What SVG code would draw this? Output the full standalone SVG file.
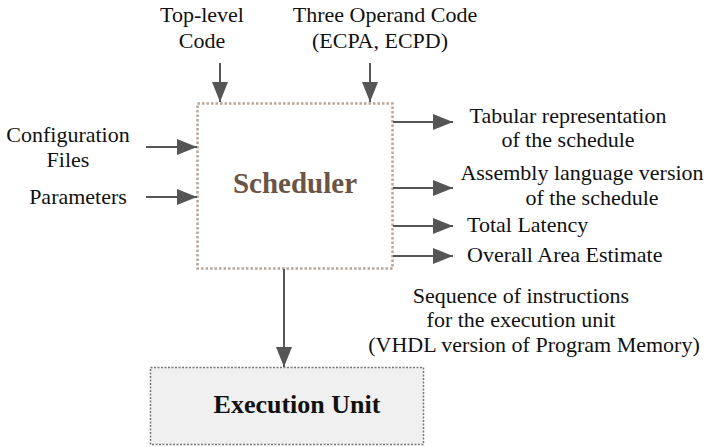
<svg xmlns="http://www.w3.org/2000/svg" width="715" height="447" viewBox="0 0 715 447">
<defs>
<marker id="ah" markerWidth="20" markerHeight="16" refX="20" refY="8" orient="auto" markerUnits="userSpaceOnUse">
<path d="M0,0 L20,8 L0,16 Z" fill="#555"/>
</marker>
<style>
text{font-family:'Liberation Serif','Times New Roman',Times,'DejaVu Serif',serif;font-size:22px;fill:#111}
.c{text-anchor:middle}
.b{font-weight:bold}
.conn line{stroke:#555;stroke-width:2;marker-end:url(#ah)}
</style>
</defs>
<rect width="715" height="447" fill="#fff"/>
<g id="scheduler">
<rect x="197.5" y="103.5" width="195" height="165" fill="#fff" stroke="#b8a596" stroke-width="2.5" stroke-dasharray="2.5,2"/>
<text x="295" y="193" class="c b" font-size="29" style="font-size:29px;fill:#6b5444">Scheduler</text>
</g>
<g id="execution-unit">
<rect x="150.5" y="367.5" width="273" height="77" fill="#f0f0f0" stroke="#777" stroke-width="1.5" stroke-dasharray="2,1.5"/>
<text x="297" y="413" class="c b" style="font-size:26px">Execution Unit</text>
</g>
<g id="inputs">
<text x="202" y="22" class="c">Top-level</text>
<text x="202" y="48" class="c">Code</text>
<text x="385" y="22" class="c">Three Operand Code</text>
<text x="380" y="48" class="c">(ECPA, ECPD)</text>
<text x="68" y="142" class="c">Configuration</text>
<text x="68" y="167" class="c">Files</text>
<text x="78" y="204" class="c">Parameters</text>
</g>
<g id="outputs">
<text x="568" y="123" class="c">Tabular representation</text>
<text x="568" y="147" class="c">of the schedule</text>
<text x="582" y="180" class="c">Assembly language version</text>
<text x="592" y="205" class="c">of the schedule</text>
<text x="467" y="232">Total Latency</text>
<text x="467" y="262">Overall Area Estimate</text>
<text x="521" y="303" class="c">Sequence of instructions</text>
<text x="521" y="327" class="c">for the execution unit</text>
<text x="534" y="352" class="c">(VHDL version of Program Memory)</text>
</g>
<g class="conn" id="connectors">
<line x1="220" y1="63" x2="220" y2="102"/>
<line x1="370" y1="63" x2="370" y2="102"/>
<line x1="146" y1="147" x2="197" y2="147"/>
<line x1="146" y1="197" x2="197" y2="197"/>
<line x1="393" y1="122" x2="453" y2="122"/>
<line x1="393" y1="188" x2="453" y2="188"/>
<line x1="393" y1="226" x2="453" y2="226"/>
<line x1="393" y1="256" x2="453" y2="256"/>
<line x1="284" y1="269" x2="284" y2="367"/>
</g>
</svg>
